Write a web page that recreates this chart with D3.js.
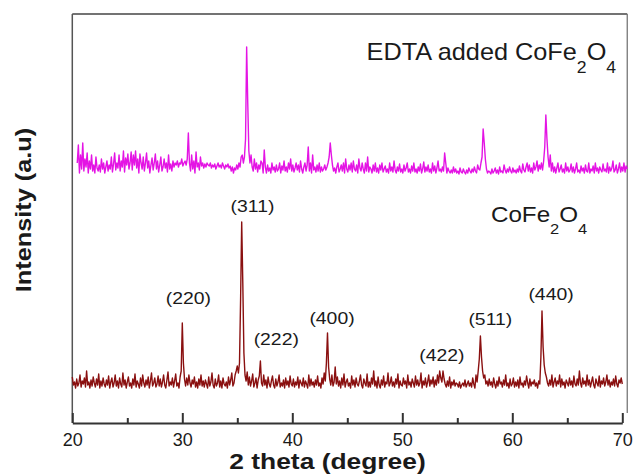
<!DOCTYPE html>
<html><head><meta charset="utf-8">
<script src="https://cdn.jsdelivr.net/npm/d3@7"></script>
<style>
body{margin:0;background:#fff}
text{font-family:"Liberation Sans",Arial,sans-serif;fill:#1a1a1a}
</style>
</head><body>
<svg id="chart" width="634" height="474"></svg>
<script>
// ---- data ----
const redStart = 20.0, redStep = 0.1;   // CoFe2O4
const redValues = [
230,190,205,175,220,185,200,240,180,210,
195,225,180,260,190,205,175,215,185,230,
200,180,220,190,245,175,210,185,225,195,
180,215,190,235,175,205,225,180,200,240,
185,210,175,225,195,180,250,190,215,175,
205,230,185,200,175,220,190,245,180,210,
195,175,225,185,240,200,180,215,190,230,
175,210,250,185,200,225,180,195,235,185,
220,180,205,240,190,175,215,255,185,205,
190,225,180,210,245,185,200,175,230,260,
500,300,220,185,225,190,240,200,180,215,
195,230,180,205,175,220,190,240,185,210,
180,215,195,175,230,185,205,250,190,175,
220,185,200,240,180,210,175,225,195,185,
205,175,230,190,215,250,185,200,240,260,
285,250,300,620,1005,700,350,240,210,255,
190,230,185,210,245,180,200,225,175,215,
235,310,200,185,240,190,215,175,230,195,
180,210,235,190,175,220,185,205,240,180,
200,185,215,175,225,190,210,180,235,195,
185,220,180,205,190,230,175,215,200,185,
225,180,210,195,175,240,185,220,190,205,
180,215,190,235,185,200,175,225,195,250,
210,300,450,280,220,190,240,185,205,280,
195,230,185,210,175,225,190,245,180,205,
220,185,200,175,235,190,215,180,225,195,
185,210,240,190,175,220,200,185,245,180,
205,180,225,195,260,185,210,175,230,190,
175,215,190,235,180,205,195,250,185,200,
230,185,205,180,220,195,245,175,210,190,
185,225,195,210,175,240,190,205,180,220,
200,180,235,190,215,185,200,250,175,210,
190,225,180,205,240,185,215,195,230,180,
215,190,240,200,260,225,205,260,220,195,
180,210,185,230,175,205,190,215,185,200,
195,180,205,175,190,200,185,215,180,195,
210,185,200,180,225,195,175,240,205,260,
320,435,330,260,225,240,195,210,185,220,
190,205,180,225,195,175,210,185,230,195,
205,180,215,190,240,185,200,175,220,185,
195,225,180,205,185,215,175,230,190,200,
180,210,190,235,200,175,220,185,205,195,
215,185,200,175,210,195,330,560,380,290,
250,230,200,185,215,190,240,180,205,225,
185,210,195,240,180,220,190,205,175,215,
200,185,225,190,210,180,235,195,185,220,
190,260,200,180,225,195,210,185,240,190,
215,180,205,230,190,175,220,200,185,235,
180,210,195,225,185,205,240,190,215,180,
205,190,220,185,235,195,180,215,200,225,
195
];
const pinkStart = 20.45, pinkStep = 0.1; // EDTA added CoFe2O4
const pinkValues = [
1300,1390,1250,1340,1270,1400,1260,1320,1280,1350,
1250,1310,1270,1340,1260,1290,1250,1330,1275,1260,
1290,1255,1320,1270,1300,1250,1280,1310,1260,1290,
1270,1330,1255,1295,1350,1265,1300,1275,1340,1260,
1310,1280,1360,1255,1325,1290,1345,1270,1300,1355,
1265,1340,1290,1360,1275,1320,1250,1345,1300,1270,
1330,1260,1300,1350,1275,1310,1250,1290,1325,1265,
1300,1345,1270,1310,1255,1290,1330,1260,1280,1320,
1275,1300,1255,1340,1270,1295,1260,1310,1280,1300,
1290,1310,1280,1300,1295,1320,1285,1300,1310,1290,
1320,1450,1300,1260,1340,1270,1310,1250,1355,1280,
1300,1265,1330,1285,1300,1275,1295,1280,1300,1290,
1285,1300,1275,1290,1280,1295,1270,1285,1300,1280,
1290,1275,1300,1285,1270,1290,1280,1295,1275,1285,
1260,1280,1250,1275,1265,1290,1270,1300,1280,1330,
1340,1300,1330,1420,1880,1600,1360,1300,1340,1280,
1260,1320,1270,1300,1255,1290,1270,1310,1300,1250,
1365,1280,1250,1290,1260,1275,1250,1300,1265,1280,
1255,1290,1260,1270,1300,1250,1285,1265,1310,1260,
1280,1255,1300,1270,1320,1260,1290,1255,1275,1300,
1265,1290,1255,1310,1270,1250,1280,1300,1260,1290,
1380,1260,1300,1250,1340,1265,1280,1255,1290,1260,
1300,1255,1280,1260,1270,1290,1265,1280,1300,1330,
1400,1340,1290,1260,1275,1250,1280,1300,1255,1270,
1290,1260,1300,1250,1320,1270,1255,1290,1265,1300,
1255,1310,1270,1260,1290,1250,1320,1275,1260,1300,
1270,1250,1300,1260,1330,1255,1280,1270,1250,1290,
1260,1300,1255,1275,1250,1290,1265,1300,1255,1270,
1285,1255,1270,1250,1300,1260,1280,1255,1310,1265,
1250,1280,1260,1295,1255,1270,1250,1290,1260,1275,
1300,1255,1270,1250,1285,1260,1300,1255,1270,1250,
1280,1260,1295,1250,1270,1305,1255,1280,1260,1290,
1255,1270,1250,1300,1260,1285,1250,1275,1310,1260,
1270,1255,1280,1260,1350,1300,1250,1275,1260,1250,
1265,1250,1280,1255,1270,1250,1260,1245,1275,1255,
1250,1270,1255,1245,1265,1250,1275,1260,1250,1270,
1255,1280,1260,1250,1290,1270,1265,1300,1330,1470,
1400,1320,1270,1250,1260,1255,1245,1270,1250,1260,
1275,1250,1265,1245,1280,1255,1260,1250,1290,1265,
1250,1270,1255,1280,1260,1250,1275,1255,1265,1250,
1270,1255,1285,1260,1250,1295,1265,1255,1280,1300,
1260,1290,1255,1275,1250,1300,1265,1280,1310,1260,
1290,1270,1300,1265,1310,1380,1540,1420,1330,1280,
1340,1260,1300,1255,1280,1250,1275,1300,1255,1270,
1290,1255,1270,1250,1300,1260,1280,1255,1265,1295,
1255,1280,1250,1270,1300,1255,1265,1250,1285,1260,
1275,1250,1290,1260,1255,1300,1250,1270,1260,1285,
1250,1300,1260,1275,1250,1280,1265,1255,1295,1260,
1270,1255,1300,1250,1280,1260,1275,1310,1255,1265,
1290,1250,1270,1300,1255,1280,1260,1300,1255,1285,
1270
];
const xMajorTicks = [20,30,40,50,60,70];
const xMinorTicks = [25,35,45,55,65];
const peakLabels = ["(220)","(311)","(222)","(400)","(422)","(511)","(440)"];
const peakLabelX = [30.55,36.38,38.54,43.61,53.59,58.0,63.52];   // 2θ of label centre
const peakLabelY = [597,1057,390,497,310,490,617];               // intensity of label baseline
const xTitle = "2 theta (degree)";
const yTitle = "Intensity (a.u)";

// ---- chart ----
const svg = d3.select("#chart");
const x = d3.scaleLinear().domain([20,70]).range([72.3,622.3]);
const y = d3.scaleLinear().domain([0,2045]).range([423,14]);

const red = redValues.map((v,i)=>({t:redStart+i*redStep, v}));
const pink = pinkValues.map((v,i)=>({t:pinkStart+i*pinkStep, v}));
const line = d3.line().x(d=>x(d.t)).y(d=>y(d.v));

// frame
const x0 = x.range()[0], yTop = y.range()[1], yBot = y.range()[0];
const xRight = x(pink[pink.length-1].t);
svg.append("line").attr("x1",x0).attr("x2",xRight).attr("y1",yTop).attr("y2",yTop)
  .attr("stroke","#444").attr("stroke-width",1.3);
svg.append("line").attr("x1",x0).attr("x2",x0).attr("y1",yTop).attr("y2",yBot)
  .attr("stroke","#555").attr("stroke-width",1.5);
svg.append("line").attr("x1",xRight).attr("x2",xRight).attr("y1",yTop).attr("y2",y(50))
  .attr("stroke","#777").attr("stroke-width",1.3);

// traces
svg.append("path").datum(pink).attr("d",line).attr("fill","none")
  .attr("stroke","#e414e4").attr("stroke-width",1.4).attr("stroke-linejoin","round");
svg.append("path").datum(red).attr("d",line).attr("fill","none")
  .attr("stroke","#8a1010").attr("stroke-width",1.4).attr("stroke-linejoin","round");

// x axis
const axMajor = d3.axisBottom(x).tickValues(xMajorTicks).tickSizeInner(-10).tickSizeOuter(0).tickPadding(10);
const gx = svg.append("g").attr("transform",`translate(0,${yBot})`).call(axMajor);
gx.select(".domain").attr("stroke","#333").attr("stroke-width",2);
gx.selectAll(".tick line").attr("stroke","#333").attr("stroke-width",2);
gx.selectAll(".tick text").attr("font-size",18).style("font-family","'Liberation Sans',Arial,sans-serif").attr("fill","#1a1a1a");
const axMinor = d3.axisBottom(x).tickValues(xMinorTicks).tickSizeInner(-5).tickSizeOuter(0).tickFormat("");
const gm = svg.append("g").attr("transform",`translate(0,${yBot})`).call(axMinor);
gm.select(".domain").remove();
gm.selectAll(".tick line").attr("stroke","#333").attr("stroke-width",2);

// axis titles
svg.append("text").attr("transform",`translate(${x(43.2)},468.5) scale(1.2,1)`)
  .attr("text-anchor","middle").attr("font-size",22).attr("font-weight","bold").text(xTitle);
svg.append("text").attr("transform",`translate(30.7,210) rotate(-90) scale(1.15,1)`)
  .attr("text-anchor","middle").attr("font-size",22).attr("font-weight","bold").text(yTitle);

// peak labels
peakLabels.forEach((s,i)=>{
  svg.append("text").attr("transform",`translate(${x(peakLabelX[i])},${y(peakLabelY[i])}) scale(1.14,1)`)
    .attr("text-anchor","middle").attr("font-size",17).text(s);
});

// series labels
function formula(g, parts, size, subSize){
  const t = g.append("text").attr("font-size",size);
  parts.forEach(p=>{
    if(p.sub){ t.append("tspan").attr("font-size",subSize).attr("dy",size*0.55).text(p.s); }
    else { t.append("tspan").attr("dy",p.after? -size*0.55:0).text(p.s); }
  });
  return t;
}
const g1 = svg.append("g").attr("transform",`translate(${x(46.75)},${y(1815)}) scale(1.1,1)`);
formula(g1,[{s:"EDTA added CoFe"},{s:"2",sub:true},{s:"O",after:true},{s:"4",sub:true}],23,16);
const g2 = svg.append("g").attr("transform",`translate(${x(58.06)},${y(1007)}) scale(1.1,1)`);
formula(g2,[{s:"CoFe"},{s:"2",sub:true},{s:"O",after:true},{s:"4",sub:true}],22,15);
</script>
</body></html>
